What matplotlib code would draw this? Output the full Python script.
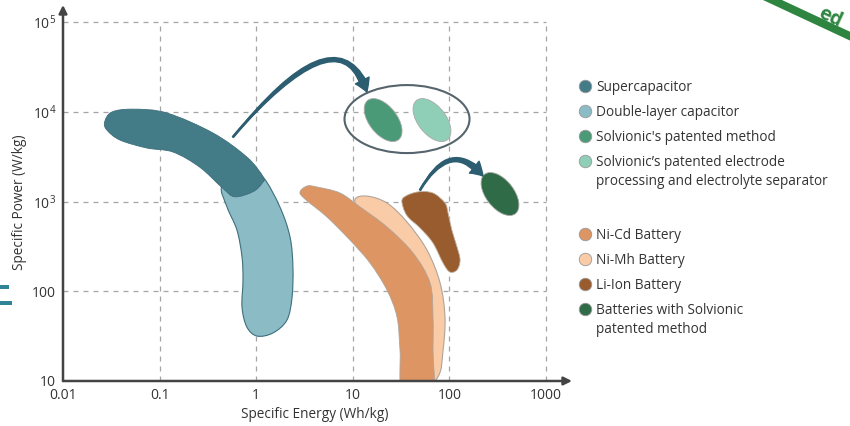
import numpy as np
import matplotlib.pyplot as plt
from matplotlib.path import Path
from matplotlib.patches import PathPatch, Ellipse, FancyArrowPatch, Rectangle
from matplotlib.transforms import ScaledTranslation

plt.rcParams['font.family'] = ['Open Sans', 'DejaVu Sans']
plt.rcParams['mathtext.default'] = 'regular'

# axis ticks
energy_ticks = [0.01, 0.1, 1, 10, 100, 1000]
energy_labels = ['0.01', '0.1', '1', '10', '100', '1000']
power_ticks = [10, 100, 1e3, 1e4, 1e5]
power_labels = ['10', '100', '10$^3$', '10$^4$', '10$^5$']

# region outlines: specific energy (Wh/kg), specific power (W/kg)
supercap_e = [0.027, 0.032, 0.053, 0.119, 0.357, 0.80, 1.18, 1.15, 0.93, 0.60, 0.45, 0.26, 0.138, 0.074, 0.039, 0.0285]
supercap_p = [7700, 9930, 10700, 9700, 5800, 3130, 1880, 1600, 1290, 1130, 1410, 2420, 3560, 3950, 4840, 6260]

dlcap_e = [0.443, 0.766, 1.175, 1.76, 2.24, 2.40, 2.35, 2.08, 1.49, 1.02, 0.80, 0.713, 0.73, 0.713, 0.632, 0.499]
dlcap_p = [1527, 2360, 1875, 869, 402, 186, 86, 47.8, 34.3, 31.7, 40, 66.7, 133, 241, 481, 869]

nimh_e = [10.5, 14.0, 22.6, 36.4, 58.6, 80, 90, 86, 76, 44, 34.7, 27.3, 18.2, 12.5]
nimh_p = [1040, 1150, 962, 591, 288, 124, 51.6, 22.2, 11.1, 7.0, 37, 103, 274, 655]

nicd_e = [2.84, 3.36, 4.26, 7.37, 11.9, 22.6, 42, 63, 67.6, 67.6, 66, 33.1, 30.8, 28.7, 22.6, 15.1, 9.35, 5.41, 3.2]
nicd_p = [1276, 1489, 1451, 1244, 869, 520, 267, 124, 51.6, 22.2, 7.0, 7.0, 22.2, 51.6, 103, 206, 372, 672, 1067]

liion_e = [33.1, 46.2, 67.6, 90, 96.8, 106, 120, 129, 120, 101, 86, 67.6, 49.7, 37.3, 33.1]
liion_p = [1094, 1276, 1244, 962, 745, 481, 311, 223, 173, 164, 206, 345, 507, 672, 869]

# ellipse centres (energy, power)
method_c = (20.6, 8090)
separator_c = (66, 8090)
solv_batt_c = (334, 1213)
group_c = (36.4, 8300)

# arrows (start, end)
arrow1 = ((0.575, 5240), (14.0, 16600))
arrow2 = ((49.7, 1343), (223, 1923))

legend_labels = ['Supercapacitor', 'Double-layer capacitor', "Solvionic's patented method",
                 'Solvionic\u2019s patented electrode\nprocessing and electrolyte separator',
                 'Ni-Cd Battery', 'Ni-Mh Battery', 'Li-Ion Battery',
                 'Batteries with Solvionic\npatented method']
legend_colors = ['#437b87', '#8bbcc6', '#4a9a78', '#8fcfb8',
                 '#dc9563', '#f9cba7', '#995c2e', '#2f6b47']


def blob(ax, e, p, **kw):
    # closed smooth outline through the points (Catmull-Rom in log space)
    x = np.log10(e)
    y = np.log10(p)
    n = len(x)
    verts = [(x[0], y[0])]
    codes = [Path.MOVETO]
    for i in range(n):
        i0, i1, i2, i3 = (i - 1) % n, i, (i + 1) % n, (i + 2) % n
        c1 = (x[i1] + (x[i2] - x[i0]) / 6, y[i1] + (y[i2] - y[i0]) / 6)
        c2 = (x[i2] - (x[i3] - x[i1]) / 6, y[i2] - (y[i3] - y[i1]) / 6)
        verts += [c1, c2, (x[i2], y[i2])]
        codes += [Path.CURVE4] * 3
    verts.append((x[0], y[0]))
    codes.append(Path.CLOSEPOLY)
    ax.add_patch(PathPatch(Path(10 ** np.array(verts), codes), **kw))


def ellipse(ax, c, w, h, angle, **kw):
    # centre in data coords, size in inches
    tr = fig.dpi_scale_trans + ScaledTranslation(c[0], c[1], ax.transData)
    ax.add_patch(Ellipse((0, 0), w, h, angle=angle, transform=tr, **kw))


def curved_arrow(ax, a, b, angA, angB, width, color):
    head = FancyArrowPatch(a, b, connectionstyle=f'angle3,angleA={angA},angleB={angB}',
                           arrowstyle='simple,head_width=11,head_length=9,tail_width=1',
                           mutation_scale=1, color=color, shrinkA=0, shrinkB=0, zorder=6)
    ax.add_patch(head)
    body = FancyArrowPatch(b, a, connectionstyle=f'angle3,angleA={angB},angleB={angA}',
                           arrowstyle=f'wedge,tail_width={width},shrink_factor=0.6',
                           mutation_scale=1, color=color, shrinkA=7, shrinkB=0, zorder=6)
    ax.add_patch(body)


fig = plt.figure(figsize=(8.5, 4.26), dpi=100)
ax = fig.add_axes([63 / 850, 45 / 426, 509 / 850, 376 / 426])
ax.set_xscale('log')
ax.set_yscale('log')
ax.set_xlim(0.01, 1858)
ax.set_ylim(10, 155000)

# dashed grid inside the 0.01-1000 x 10-1e5 box
ax.vlines(energy_ticks[1:], 10, 1e5, colors='#a5a5a5', lw=0.9, linestyles=(0, (4, 4)), zorder=0)
ax.hlines(power_ticks[1:], 0.01, 1000, colors='#a5a5a5', lw=0.9, linestyles=(0, (4, 4)), zorder=0)

for s in ax.spines.values():
    s.set_visible(False)
ax.set_xticks(energy_ticks)
ax.set_xticklabels(energy_labels)
ax.set_yticks(power_ticks)
ax.set_yticklabels(power_labels)
ax.minorticks_off()
ax.tick_params(length=0, pad=5, labelsize=10, colors='#333333')

ax.annotate('', xy=(0, 1), xytext=(0, 0), xycoords='axes fraction',
            arrowprops=dict(arrowstyle='-|>', color='#444444', lw=1.8, shrinkA=0, shrinkB=0, mutation_scale=12), zorder=10)
ax.annotate('', xy=(1, 0), xytext=(0, 0), xycoords='axes fraction',
            arrowprops=dict(arrowstyle='-|>', color='#444444', lw=1.8, shrinkA=0, shrinkB=0, mutation_scale=12), zorder=10)

# regions
blob(ax, dlcap_e, dlcap_p, fc=legend_colors[1], ec='#3d6f7c', lw=0.8, zorder=2)
blob(ax, supercap_e, supercap_p, fc=legend_colors[0], ec='#3d6f7c', lw=0.6, zorder=3)
blob(ax, nimh_e, nimh_p, fc=legend_colors[5], ec='#b0a49a', lw=0.8, zorder=2)
blob(ax, nicd_e, nicd_p, fc=legend_colors[4], ec='#b0a49a', lw=0.6, zorder=3)
blob(ax, liion_e, liion_p, fc=legend_colors[6], ec='#bfb0a0', lw=0.6, zorder=3)

ellipse(ax, method_c, 0.50, 0.28, -52, fc=legend_colors[2], ec='#aaaaaa', lw=0.6, zorder=4)
ellipse(ax, separator_c, 0.50, 0.28, -52, fc=legend_colors[3], ec='#aaaaaa', lw=0.6, zorder=4)
ellipse(ax, solv_batt_c, 0.50, 0.28, -52, fc=legend_colors[7], ec='#aaaaaa', lw=0.6, zorder=4)
ellipse(ax, group_c, 1.25, 0.68, 0, fc='none', ec='#56656d', lw=1.5, zorder=4)

curved_arrow(ax, arrow1[0], arrow1[1], 50, -72, 5, '#2c5d70')
curved_arrow(ax, arrow2[0], arrow2[1], 60, -50, 4.5, '#2c5d70')

ax.set_xlabel('Specific Energy (Wh/kg)', fontsize=9.8, color='#333333')
ax.xaxis.set_label_coords((315 - 63) / 509, -(407 - 381) / 376)
ax.set_ylabel('Specific Power (W/kg)', fontsize=9.8, color='#333333')
ax.yaxis.set_label_coords(-(63 - 27) / 509, (381 - 202) / 376)

# legend drawn by hand so the gap between the groups matches
rows = [86, 111, 136, 161, 234, 259, 284, 309]
for lab, col, r in zip(legend_labels, legend_colors, rows):
    yf = 1 - r / 426
    fig.add_artist(plt.Line2D([585 / 850], [yf], marker='o', ms=9, mfc=col, mec='#999999',
                              mew=0.6, transform=fig.transFigure))
    fig.text(596 / 850, 1 - (r - 6) / 426, lab, fontsize=9.8, color='#333333', va='top',
             linespacing=1.4)

# cropped decorations at the edges of the original image
fig.add_artist(Rectangle((0, 1 - 289 / 426), 9 / 850, 4 / 426, fc='#2f8595', ec='none', transform=fig.transFigure))
fig.add_artist(Rectangle((0, 1 - 305 / 426), 12 / 850, 4 / 426, fc='#2f8595', ec='none', transform=fig.transFigure))
fig.add_artist(Rectangle((7.63, 4.26), 1.3, 0.08, angle=-25, rotation_point='xy',
                         fc='#2e8540', ec='none', transform=fig.dpi_scale_trans))
fig.text(8.30, 4.08, 'ed', fontsize=14, fontweight='bold', color='#2e8540',
         rotation=-25, ha='center', va='center', transform=fig.dpi_scale_trans)

fig.savefig('out.png', dpi=100)
